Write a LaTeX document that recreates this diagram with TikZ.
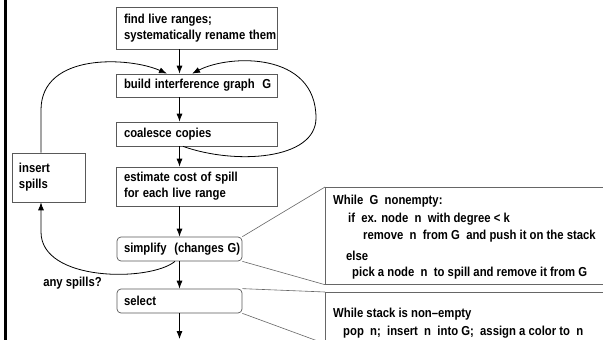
\documentclass[tikz,border=0pt]{standalone}
\usepackage{fontspec}
\usepackage{graphicx}
\setmainfont{Liberation Sans}
\usetikzlibrary{arrows.meta}
\newcommand\nx[1]{\scalebox{0.87}[1]{#1}}
\begin{document}
\begin{tikzpicture}[x=1pt,y=-1pt,
  txt/.style={font=\bfseries\fontsize{13}{16}\selectfont, text=black},
  box/.style={txt, draw=black!65, line width=0.7pt, fill=white, align=left, inner xsep=8pt, inner ysep=0pt, anchor=center},
  rbox/.style={box, rounded corners=4pt},
  cbox/.style={draw=black!60, line width=0.7pt, anchor=north west, inner sep=0pt},
  cline/.style={draw=black!60, line width=0.6pt},
  ctext/.style={txt, anchor=base west, inner sep=0pt},
  arr/.style={-{Latex[length=8pt,width=6pt]}, line width=0.8pt, draw=black}]
\clip (0,0) rectangle (603,340);
\fill[white] (0,0) rectangle (603,340);
\draw[line width=2.5pt] (5.5,0) -- (5.5,340);

\node[box, text width=145pt, minimum height=42pt] (find) at (196.5,28) {\nx{find live ranges;}\\\nx{systematically rename them}};
\node[box, text width=145pt, minimum height=23pt] (build) at (196.5,85.5) {\nx{build interference graph\ \ G}};
\node[box, text width=145pt, minimum height=24pt] (coal) at (196.5,134) {\nx{coalesce copies}};
\node[box, text width=145pt, minimum height=39pt] (est) at (196.5,186.5) {\nx{estimate cost of spill}\\\nx{for each live range}};
\node[box, inner xsep=7pt, text width=59pt, minimum height=49pt] (ins) at (48.5,177.5) {\nx{insert}\\\nx{spills}};
\node[rbox, inner xsep=7pt, text width=111pt, minimum height=24pt] (simp) at (179.5,249) {\nx{simplify\ \ (changes G)}};
\node[rbox, inner xsep=7pt, text width=111pt, minimum height=24pt] (sel) at (179.5,301) {\nx{select}};
\node[txt, inner sep=0pt] (any) at (72.5,283) {\nx{any spills?}};
\coordinate (bot) at (179.5,339);

\draw[arr] (find.south -| sel.center) -- (build.north -| sel.center);
\draw[arr] (build.south -| sel.center) -- (coal.north -| sel.center);
\draw[arr] (coal.south -| sel.center) -- (est.north -| sel.center);
\draw[arr] (est.south -| sel.center) -- (simp.north);
\draw[arr] (simp.south) -- (sel.north);
\draw[arr] (sel.south) -- (bot);

\draw[arr] ([xshift=-7.5pt]ins.north) -- (41,110) .. controls (41,52) and (130,57) .. ([xshift=-29.5pt]build.north);
\draw[arr] ([xshift=-13.5pt]coal.south) .. controls (235,165) and (316,160) .. (316,118) .. controls (316,52) and (230,54) .. ([xshift=-4.5pt]build.north);
\draw[arr] ([xshift=-4.5pt]simp.south) .. controls (150,282) and (41,282) .. (41,232) -- ([xshift=-7.5pt]ins.south);

\node[cbox, minimum width=300pt, minimum height=97pt] (cb1) at (325,187) {};
\node[cbox, minimum width=300pt, minimum height=51pt] (cb2) at (325,292) {};
\draw[cline] (simp.north east) -- (cb1.north west);
\draw[cline] (simp.south east) -- (cb1.south west);
\draw[cline] (sel.north east) -- (cb2.north west);
\draw[cline] (sel.south east) -- (cb2.south west);

\node[ctext] (t1) at (333,204.5) {\nx{While\ \ G\ \ nonempty:}};
\node[ctext] (t2) at (348,222.5) {\nx{if\ \ ex. node\ \ n\ \ with degree < k}};
\node[ctext] (t3) at (363,239.5) {\nx{remove\ \ n\ \ from G\ \ and push it on the stack}};
\node[ctext] (t4) at (346,260.5) {\nx{else}};
\node[ctext] (t5) at (352,276.5) {\nx{pick a node\ \ n\ \ to spill and remove it from G}};
\node[ctext] (t6) at (333,317.5) {\nx{While stack is non--empty}};
\node[ctext] (t7) at (343,335.5) {\nx{pop\ \ n;\ \ insert\ \ n\ \ into G;\ \ assign a color to\ \ n}};
\end{tikzpicture}
\end{document}
